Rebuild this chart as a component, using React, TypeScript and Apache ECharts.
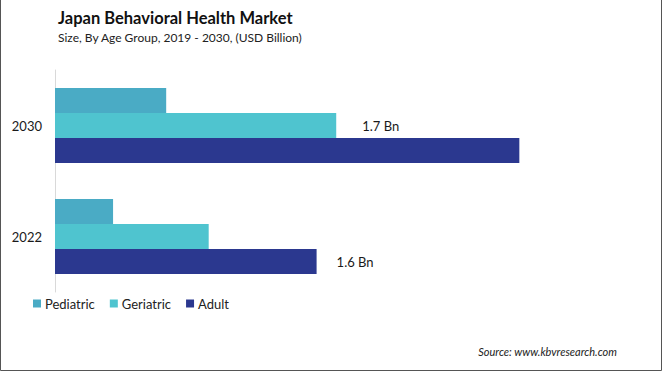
import React, { useEffect, useRef } from "react";
import * as echarts from "echarts";

const categories = ["2022", "2030"];
const seriesNames = ["Pediatric", "Geriatric", "Adult"];
const pediatric = [0.355, 0.68];
const geriatric = [0.94, 1.72];
const adult = [1.6, 2.84];
const geriatricLabelShown = [false, true];
const adultLabelShown = [true, false];
const colors = ["#4aabc5", "#4fc4cf", "#2b388f"];

const FONT = "Lato, 'Open Sans', sans-serif";

function withLabels(values: number[], shown: boolean[], distance: number) {
  return values.map((v, i) => ({
    value: v,
    label: {
      show: shown[i],
      position: "right",
      distance,
      formatter: (p: any) => Number(p.value).toFixed(1) + " Bn",
      color: "#1a1a1a",
      fontSize: 13,
      fontFamily: FONT,
    },
  }));
}

export default function App() {
  const ref = useRef<HTMLDivElement>(null);
  useEffect(() => {
    document.body.style.margin = "0";
    const chart = echarts.init(ref.current!, null, { renderer: "svg" });
    chart.setOption({
      animation: false,
      backgroundColor: "#ffffff",
      textStyle: { fontFamily: FONT },
      title: [
        {
          text: "Japan Behavioral Health Market",
          left: 53,
          top: 4,
          textStyle: { fontSize: 16.5, fontWeight: "bold", color: "#111", fontFamily: FONT },
        },
        {
          text: "Size, By Age Group, 2019 - 2030, (USD Billion)",
          left: 53,
          top: 26,
          textStyle: { fontSize: 12, fontWeight: "normal", color: "#222", fontFamily: FONT },
        },
      ],
      legend: {
        data: seriesNames,
        left: 28,
        top: 292,
        icon: "rect",
        itemWidth: 8,
        itemHeight: 8,
        itemGap: 15,
        textStyle: { fontSize: 13, color: "#222", fontFamily: FONT, padding: [0, 0, 0, -1] },
      },
      grid: { left: 55, right: 118.5, top: 70, bottom: 80 },
      xAxis: {
        type: "value",
        min: 0,
        max: 3,
        show: false,
        splitLine: { show: false },
      },
      yAxis: {
        type: "category",
        data: categories,
        axisLine: { show: true, lineStyle: { color: "#d9d9d9", width: 1 } },
        axisTick: { show: false },
        axisLabel: { fontSize: 13, color: "#1a1a1a", margin: 13, fontFamily: FONT },
      },
      series: [
        {
          name: seriesNames[0],
          type: "bar",
          barWidth: 25,
          barGap: "0%",
          itemStyle: { color: colors[0] },
          data: pediatric,
        },
        {
          name: seriesNames[1],
          type: "bar",
          barWidth: 25,
          barGap: "0%",
          itemStyle: { color: colors[1] },
          data: withLabels(geriatric, geriatricLabelShown, 26),
        },
        {
          name: seriesNames[2],
          type: "bar",
          barWidth: 25,
          barGap: "0%",
          itemStyle: { color: colors[2] },
          data: withLabels(adult, adultLabelShown, 20),
        },
      ],
      graphic: [
        {
          type: "text",
          right: 47,
          top: 346,
          style: {
            text: "Source: www.kbvresearch.com",
            fontSize: 11,
            fontStyle: "italic",
            fill: "#222",
            fontFamily: FONT,
          },
        },
        {
          type: "polyline",
          shape: { points: [[0.5, 0], [0.5, 370.5], [661.5, 370.5], [661.5, 0]] },
          style: { stroke: "#555", lineWidth: 1, fill: "none" },
        },
      ],
    });
    return () => chart.dispose();
  }, []);
  return <div ref={ref} style={{ width: 664, height: 372 }} />;
}
